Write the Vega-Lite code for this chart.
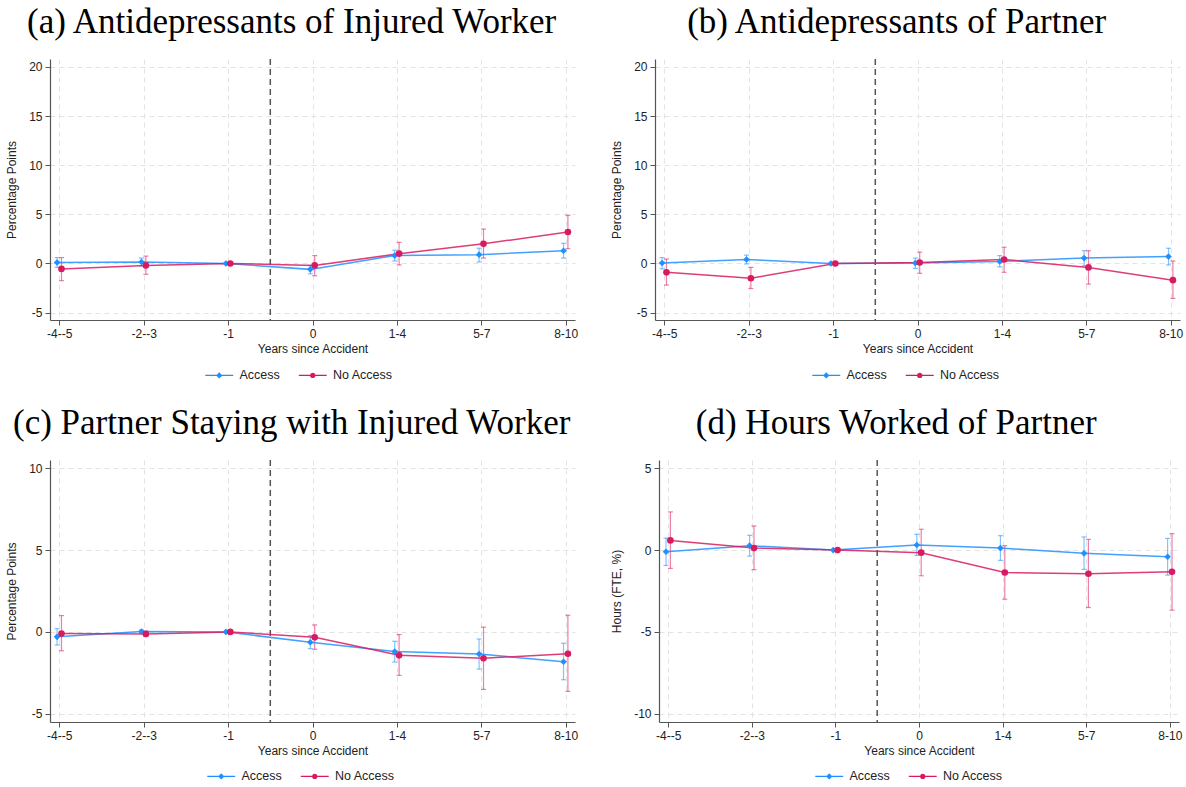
{
  "$schema": "https://vega.github.io/schema/vega-lite/v6.json",
  "background": "white",
  "padding": 5,
  "datasets": {
    "est": [
      {"panel": "a", "series": "Access", "period": "-4--5", "est": 0.1, "lo": -0.4, "hi": 0.6},
      {"panel": "a", "series": "Access", "period": "-2--3", "est": 0.15, "lo": -0.25, "hi": 0.55},
      {"panel": "a", "series": "Access", "period": "-1", "est": 0, "lo": null, "hi": null},
      {"panel": "a", "series": "Access", "period": "0", "est": -0.6, "lo": -1.05, "hi": -0.2},
      {"panel": "a", "series": "Access", "period": "1-4", "est": 0.8, "lo": 0.25, "hi": 1.35},
      {"panel": "a", "series": "Access", "period": "5-7", "est": 0.9, "lo": 0.15, "hi": 1.55},
      {"panel": "a", "series": "Access", "period": "8-10", "est": 1.3, "lo": 0.55, "hi": 2.05},
      {"panel": "a", "series": "No Access", "period": "-4--5", "est": -0.55, "lo": -1.75, "hi": 0.6},
      {"panel": "a", "series": "No Access", "period": "-2--3", "est": -0.2, "lo": -1.1, "hi": 0.75},
      {"panel": "a", "series": "No Access", "period": "-1", "est": 0, "lo": null, "hi": null},
      {"panel": "a", "series": "No Access", "period": "0", "est": -0.2, "lo": -1.25, "hi": 0.8},
      {"panel": "a", "series": "No Access", "period": "1-4", "est": 1.0, "lo": -0.15, "hi": 2.15},
      {"panel": "a", "series": "No Access", "period": "5-7", "est": 2.0, "lo": 0.55, "hi": 3.5},
      {"panel": "a", "series": "No Access", "period": "8-10", "est": 3.2, "lo": 1.5, "hi": 4.9},

      {"panel": "b", "series": "Access", "period": "-4--5", "est": 0.05, "lo": -0.55, "hi": 0.6},
      {"panel": "b", "series": "Access", "period": "-2--3", "est": 0.4, "lo": -0.05, "hi": 0.85},
      {"panel": "b", "series": "Access", "period": "-1", "est": 0, "lo": null, "hi": null},
      {"panel": "b", "series": "Access", "period": "0", "est": 0.05, "lo": -0.5, "hi": 0.55},
      {"panel": "b", "series": "Access", "period": "1-4", "est": 0.2, "lo": -0.35, "hi": 0.8},
      {"panel": "b", "series": "Access", "period": "5-7", "est": 0.55, "lo": -0.25, "hi": 1.3},
      {"panel": "b", "series": "Access", "period": "8-10", "est": 0.7, "lo": -0.15, "hi": 1.55},
      {"panel": "b", "series": "No Access", "period": "-4--5", "est": -0.9, "lo": -2.2, "hi": 0.45},
      {"panel": "b", "series": "No Access", "period": "-2--3", "est": -1.5, "lo": -2.55, "hi": -0.4},
      {"panel": "b", "series": "No Access", "period": "-1", "est": 0, "lo": null, "hi": null},
      {"panel": "b", "series": "No Access", "period": "0", "est": 0.1, "lo": -1.0, "hi": 1.15},
      {"panel": "b", "series": "No Access", "period": "1-4", "est": 0.4, "lo": -0.9, "hi": 1.65},
      {"panel": "b", "series": "No Access", "period": "5-7", "est": -0.4, "lo": -2.1, "hi": 1.3},
      {"panel": "b", "series": "No Access", "period": "8-10", "est": -1.7, "lo": -3.55, "hi": 0.25},

      {"panel": "c", "series": "Access", "period": "-4--5", "est": -0.3, "lo": -0.8, "hi": 0.2},
      {"panel": "c", "series": "Access", "period": "-2--3", "est": 0.02, "lo": -0.08, "hi": 0.12},
      {"panel": "c", "series": "Access", "period": "-1", "est": 0, "lo": null, "hi": null},
      {"panel": "c", "series": "Access", "period": "0", "est": -0.63, "lo": -1.02, "hi": -0.22},
      {"panel": "c", "series": "Access", "period": "1-4", "est": -1.2, "lo": -1.84, "hi": -0.57},
      {"panel": "c", "series": "Access", "period": "5-7", "est": -1.35, "lo": -2.27, "hi": -0.43},
      {"panel": "c", "series": "Access", "period": "8-10", "est": -1.82, "lo": -2.92, "hi": -0.69},
      {"panel": "c", "series": "No Access", "period": "-4--5", "est": -0.1, "lo": -1.15, "hi": 1.0},
      {"panel": "c", "series": "No Access", "period": "-2--3", "est": -0.12, "lo": -0.28, "hi": 0.04},
      {"panel": "c", "series": "No Access", "period": "-1", "est": 0, "lo": null, "hi": null},
      {"panel": "c", "series": "No Access", "period": "0", "est": -0.33, "lo": -1.06, "hi": 0.43},
      {"panel": "c", "series": "No Access", "period": "1-4", "est": -1.43, "lo": -2.65, "hi": -0.16},
      {"panel": "c", "series": "No Access", "period": "5-7", "est": -1.61, "lo": -3.51, "hi": 0.29},
      {"panel": "c", "series": "No Access", "period": "8-10", "est": -1.33, "lo": -3.63, "hi": 1.02},

      {"panel": "d", "series": "Access", "period": "-4--5", "est": -0.1, "lo": -0.94, "hi": 0.73},
      {"panel": "d", "series": "Access", "period": "-2--3", "est": 0.27, "lo": -0.37, "hi": 0.9},
      {"panel": "d", "series": "Access", "period": "-1", "est": 0, "lo": null, "hi": null},
      {"panel": "d", "series": "Access", "period": "0", "est": 0.31, "lo": -0.33, "hi": 0.96},
      {"panel": "d", "series": "Access", "period": "1-4", "est": 0.12, "lo": -0.63, "hi": 0.88},
      {"panel": "d", "series": "Access", "period": "5-7", "est": -0.2, "lo": -1.18, "hi": 0.8},
      {"panel": "d", "series": "Access", "period": "8-10", "est": -0.41, "lo": -1.53, "hi": 0.71},
      {"panel": "d", "series": "No Access", "period": "-4--5", "est": 0.59, "lo": -1.12, "hi": 2.33},
      {"panel": "d", "series": "No Access", "period": "-2--3", "est": 0.12, "lo": -1.2, "hi": 1.47},
      {"panel": "d", "series": "No Access", "period": "-1", "est": 0, "lo": null, "hi": null},
      {"panel": "d", "series": "No Access", "period": "0", "est": -0.16, "lo": -1.57, "hi": 1.27},
      {"panel": "d", "series": "No Access", "period": "1-4", "est": -1.37, "lo": -3.0, "hi": 0.27},
      {"panel": "d", "series": "No Access", "period": "5-7", "est": -1.45, "lo": -3.51, "hi": 0.65},
      {"panel": "d", "series": "No Access", "period": "8-10", "est": -1.33, "lo": -3.67, "hi": 1.0}
    ]
  },
  "vconcat": [
    {
      "hconcat": [
        {
          "title": "(a) Antidepressants of Injured Worker",
          "width": 525, "height": 261,
          "resolve": {"scale": {"x": "independent"}},
          "layer": [
            {"data": {"values": [{"v": 2.5}]},
             "mark": {"type": "rule", "color": "#555555", "strokeWidth": 1.5, "strokeDash": [6, 4]},
             "encoding": {"x": {"field": "v", "type": "quantitative", "scale": {"domain": [-0.11, 6.11], "nice": false, "zero": false}, "axis": null}}},
            {"data": {"name": "est"},
             "transform": [{"filter": "datum.panel === 'a'"}],
             "encoding": {
               "x": {"field": "period", "type": "nominal", "sort": ["-4--5", "-2--3", "-1", "0", "1-4", "5-7", "8-10"], "scale": {"type": "point", "padding": 0.11}, "axis": {"title": "Years since Accident", "grid": true, "labelAngle": 0}},
               "xOffset": {"field": "series", "type": "nominal", "scale": {"type": "point", "domain": ["Access", "No Access"], "range": [-2.2, 2.2], "padding": 0}},
               "color": {"field": "series", "type": "nominal", "scale": {"domain": ["Access", "No Access"], "range": ["#1E90FF", "#D81B60"]},
                 "legend": {"title": null, "orient": "none", "legendX": 163, "legendY": 310, "direction": "horizontal", "symbolType": "circle", "symbolSize": 30, "symbolStrokeWidth": 0, "symbolOpacity": 1, "labelOffset": 14, "columnPadding": 18.5, "labelFontSize": 12.5, "labelFont": "Liberation Sans", "labelColor": "#222222"}}
             },
             "layer": [
               {"transform": [{"filter": "false"}],
                "mark": {"type": "point", "filled": true},
                "encoding": {
                  "y": {"field": "est", "type": "quantitative", "title": "Percentage Points", "scale": {"domain": [-5.75, 20.8], "nice": false, "zero": false}, "axis": {"values": [-5, 0, 5, 10, 15, 20], "labelExpr": "'' + datum.value", "grid": true}},
                  "shape": {"field": "series", "type": "nominal", "scale": {"domain": ["Access", "No Access"], "range": ["M-5.1,-0.24H5.1V0.24H-5.1Z M0,-1.15L1.15,0L0,1.15L-1.15,0Z", "M-5.1,-0.24H5.1V0.24H-5.1Z M1,0A1,1,0,1,1,-1,0A1,1,0,1,1,1,0Z"]},
                    "legend": {"title": null, "orient": "none", "legendX": 163, "legendY": 310, "direction": "horizontal", "symbolSize": 30, "symbolStrokeWidth": 0, "symbolOpacity": 1, "labelOffset": 14, "columnPadding": 18.5, "labelFontSize": 12.5, "labelFont": "Liberation Sans", "labelColor": "#222222"}}
                }},
               {"mark": {"type": "rule", "strokeWidth": 1.2, "opacity": 0.55},
                "encoding": {"y": {"field": "lo", "type": "quantitative", "title": "Percentage Points", "scale": {"domain": [-5.75, 20.8], "nice": false, "zero": false}}, "y2": {"field": "hi"}}},
               {"mark": {"type": "tick", "orient": "horizontal", "size": 5, "thickness": 1.2, "opacity": 0.55},
                "encoding": {"y": {"field": "hi", "type": "quantitative", "title": "Percentage Points", "scale": {"domain": [-5.75, 20.8], "nice": false, "zero": false}}}},
               {"mark": {"type": "tick", "orient": "horizontal", "size": 5, "thickness": 1.2, "opacity": 0.55},
                "encoding": {"y": {"field": "lo", "type": "quantitative", "title": "Percentage Points", "scale": {"domain": [-5.75, 20.8], "nice": false, "zero": false}}}},
               {"mark": {"type": "line", "strokeWidth": 1.5, "opacity": 0.85},
                "encoding": {"y": {"field": "est", "type": "quantitative", "title": "Percentage Points", "scale": {"domain": [-5.75, 20.8], "nice": false, "zero": false}}}},
               {"mark": {"type": "point", "filled": true, "opacity": 1, "size": 44},
                "encoding": {"y": {"field": "est", "type": "quantitative", "title": "Percentage Points", "scale": {"domain": [-5.75, 20.8], "nice": false, "zero": false}},
                  "shape": {"condition": {"test": "datum.series === 'Access'", "value": "diamond"}, "value": "circle"}}}
             ]}
          ]
        },
        {
          "title": "(b) Antidepressants of Partner",
          "width": 525, "height": 261,
          "resolve": {"scale": {"x": "independent"}},
          "layer": [
            {"data": {"values": [{"v": 2.5}]},
             "mark": {"type": "rule", "color": "#555555", "strokeWidth": 1.5, "strokeDash": [6, 4]},
             "encoding": {"x": {"field": "v", "type": "quantitative", "scale": {"domain": [-0.11, 6.11], "nice": false, "zero": false}, "axis": null}}},
            {"data": {"name": "est"},
             "transform": [{"filter": "datum.panel === 'b'"}],
             "encoding": {
               "x": {"field": "period", "type": "nominal", "sort": ["-4--5", "-2--3", "-1", "0", "1-4", "5-7", "8-10"], "scale": {"type": "point", "padding": 0.11}, "axis": {"title": "Years since Accident", "grid": true, "labelAngle": 0}},
               "xOffset": {"field": "series", "type": "nominal", "scale": {"type": "point", "domain": ["Access", "No Access"], "range": [-2.2, 2.2], "padding": 0}},
               "color": {"field": "series", "type": "nominal", "scale": {"domain": ["Access", "No Access"], "range": ["#1E90FF", "#D81B60"]},
                 "legend": {"title": null, "orient": "none", "legendX": 165, "legendY": 310, "direction": "horizontal", "symbolType": "circle", "symbolSize": 30, "symbolStrokeWidth": 0, "symbolOpacity": 1, "labelOffset": 14, "columnPadding": 18.5, "labelFontSize": 12.5, "labelFont": "Liberation Sans", "labelColor": "#222222"}}
             },
             "layer": [
               {"transform": [{"filter": "false"}],
                "mark": {"type": "point", "filled": true},
                "encoding": {
                  "y": {"field": "est", "type": "quantitative", "title": "Percentage Points", "scale": {"domain": [-5.75, 20.8], "nice": false, "zero": false}, "axis": {"values": [-5, 0, 5, 10, 15, 20], "labelExpr": "'' + datum.value", "grid": true}},
                  "shape": {"field": "series", "type": "nominal", "scale": {"domain": ["Access", "No Access"], "range": ["M-5.1,-0.24H5.1V0.24H-5.1Z M0,-1.15L1.15,0L0,1.15L-1.15,0Z", "M-5.1,-0.24H5.1V0.24H-5.1Z M1,0A1,1,0,1,1,-1,0A1,1,0,1,1,1,0Z"]},
                    "legend": {"title": null, "orient": "none", "legendX": 165, "legendY": 310, "direction": "horizontal", "symbolSize": 30, "symbolStrokeWidth": 0, "symbolOpacity": 1, "labelOffset": 14, "columnPadding": 18.5, "labelFontSize": 12.5, "labelFont": "Liberation Sans", "labelColor": "#222222"}}
                }},
               {"mark": {"type": "rule", "strokeWidth": 1.2, "opacity": 0.55},
                "encoding": {"y": {"field": "lo", "type": "quantitative", "title": "Percentage Points", "scale": {"domain": [-5.75, 20.8], "nice": false, "zero": false}}, "y2": {"field": "hi"}}},
               {"mark": {"type": "tick", "orient": "horizontal", "size": 5, "thickness": 1.2, "opacity": 0.55},
                "encoding": {"y": {"field": "hi", "type": "quantitative", "title": "Percentage Points", "scale": {"domain": [-5.75, 20.8], "nice": false, "zero": false}}}},
               {"mark": {"type": "tick", "orient": "horizontal", "size": 5, "thickness": 1.2, "opacity": 0.55},
                "encoding": {"y": {"field": "lo", "type": "quantitative", "title": "Percentage Points", "scale": {"domain": [-5.75, 20.8], "nice": false, "zero": false}}}},
               {"mark": {"type": "line", "strokeWidth": 1.5, "opacity": 0.85},
                "encoding": {"y": {"field": "est", "type": "quantitative", "title": "Percentage Points", "scale": {"domain": [-5.75, 20.8], "nice": false, "zero": false}}}},
               {"mark": {"type": "point", "filled": true, "opacity": 1, "size": 44},
                "encoding": {"y": {"field": "est", "type": "quantitative", "title": "Percentage Points", "scale": {"domain": [-5.75, 20.8], "nice": false, "zero": false}},
                  "shape": {"condition": {"test": "datum.series === 'Access'", "value": "diamond"}, "value": "circle"}}}
             ]}
          ]
        }
      ],
      "spacing": 32,
      "resolve": {"scale": {"color": "independent", "shape": "independent"}}
    },
    {
      "hconcat": [
        {
          "title": "(c) Partner Staying with Injured Worker",
          "width": 525, "height": 262,
          "resolve": {"scale": {"x": "independent"}},
          "layer": [
            {"data": {"values": [{"v": 2.5}]},
             "mark": {"type": "rule", "color": "#555555", "strokeWidth": 1.5, "strokeDash": [6, 4]},
             "encoding": {"x": {"field": "v", "type": "quantitative", "scale": {"domain": [-0.11, 6.11], "nice": false, "zero": false}, "axis": null}}},
            {"data": {"name": "est"},
             "transform": [{"filter": "datum.panel === 'c'"}],
             "encoding": {
               "x": {"field": "period", "type": "nominal", "sort": ["-4--5", "-2--3", "-1", "0", "1-4", "5-7", "8-10"], "scale": {"type": "point", "padding": 0.11}, "axis": {"title": "Years since Accident", "grid": true, "labelAngle": 0}},
               "xOffset": {"field": "series", "type": "nominal", "scale": {"type": "point", "domain": ["Access", "No Access"], "range": [-2.2, 2.2], "padding": 0}},
               "color": {"field": "series", "type": "nominal", "scale": {"domain": ["Access", "No Access"], "range": ["#1E90FF", "#D81B60"]},
                 "legend": {"title": null, "orient": "none", "legendX": 165, "legendY": 310, "direction": "horizontal", "symbolType": "circle", "symbolSize": 30, "symbolStrokeWidth": 0, "symbolOpacity": 1, "labelOffset": 14, "columnPadding": 18.5, "labelFontSize": 12.5, "labelFont": "Liberation Sans", "labelColor": "#222222"}}
             },
             "layer": [
               {"transform": [{"filter": "false"}],
                "mark": {"type": "point", "filled": true},
                "encoding": {
                  "y": {"field": "est", "type": "quantitative", "title": "Percentage Points", "scale": {"domain": [-5.5, 10.5], "nice": false, "zero": false}, "axis": {"values": [-5, 0, 5, 10], "labelExpr": "'' + datum.value", "grid": true}},
                  "shape": {"field": "series", "type": "nominal", "scale": {"domain": ["Access", "No Access"], "range": ["M-5.1,-0.24H5.1V0.24H-5.1Z M0,-1.15L1.15,0L0,1.15L-1.15,0Z", "M-5.1,-0.24H5.1V0.24H-5.1Z M1,0A1,1,0,1,1,-1,0A1,1,0,1,1,1,0Z"]},
                    "legend": {"title": null, "orient": "none", "legendX": 165, "legendY": 310, "direction": "horizontal", "symbolSize": 30, "symbolStrokeWidth": 0, "symbolOpacity": 1, "labelOffset": 14, "columnPadding": 18.5, "labelFontSize": 12.5, "labelFont": "Liberation Sans", "labelColor": "#222222"}}
                }},
               {"mark": {"type": "rule", "strokeWidth": 1.2, "opacity": 0.55},
                "encoding": {"y": {"field": "lo", "type": "quantitative", "title": "Percentage Points", "scale": {"domain": [-5.5, 10.5], "nice": false, "zero": false}}, "y2": {"field": "hi"}}},
               {"mark": {"type": "tick", "orient": "horizontal", "size": 5, "thickness": 1.2, "opacity": 0.55},
                "encoding": {"y": {"field": "hi", "type": "quantitative", "title": "Percentage Points", "scale": {"domain": [-5.5, 10.5], "nice": false, "zero": false}}}},
               {"mark": {"type": "tick", "orient": "horizontal", "size": 5, "thickness": 1.2, "opacity": 0.55},
                "encoding": {"y": {"field": "lo", "type": "quantitative", "title": "Percentage Points", "scale": {"domain": [-5.5, 10.5], "nice": false, "zero": false}}}},
               {"mark": {"type": "line", "strokeWidth": 1.5, "opacity": 0.85},
                "encoding": {"y": {"field": "est", "type": "quantitative", "title": "Percentage Points", "scale": {"domain": [-5.5, 10.5], "nice": false, "zero": false}}}},
               {"mark": {"type": "point", "filled": true, "opacity": 1, "size": 44},
                "encoding": {"y": {"field": "est", "type": "quantitative", "title": "Percentage Points", "scale": {"domain": [-5.5, 10.5], "nice": false, "zero": false}},
                  "shape": {"condition": {"test": "datum.series === 'Access'", "value": "diamond"}, "value": "circle"}}}
             ]}
          ]
        },
        {
          "title": "(d) Hours Worked of Partner",
          "width": 520, "height": 262,
          "resolve": {"scale": {"x": "independent"}},
          "layer": [
            {"data": {"values": [{"v": 2.5}]},
             "mark": {"type": "rule", "color": "#555555", "strokeWidth": 1.5, "strokeDash": [6, 4]},
             "encoding": {"x": {"field": "v", "type": "quantitative", "scale": {"domain": [-0.11, 6.11], "nice": false, "zero": false}, "axis": null}}},
            {"data": {"name": "est"},
             "transform": [{"filter": "datum.panel === 'd'"}],
             "encoding": {
               "x": {"field": "period", "type": "nominal", "sort": ["-4--5", "-2--3", "-1", "0", "1-4", "5-7", "8-10"], "scale": {"type": "point", "padding": 0.11}, "axis": {"title": "Years since Accident", "grid": true, "labelAngle": 0}},
               "xOffset": {"field": "series", "type": "nominal", "scale": {"type": "point", "domain": ["Access", "No Access"], "range": [-2.2, 2.2], "padding": 0}},
               "color": {"field": "series", "type": "nominal", "scale": {"domain": ["Access", "No Access"], "range": ["#1E90FF", "#D81B60"]},
                 "legend": {"title": null, "orient": "none", "legendX": 164, "legendY": 310, "direction": "horizontal", "symbolType": "circle", "symbolSize": 30, "symbolStrokeWidth": 0, "symbolOpacity": 1, "labelOffset": 14, "columnPadding": 18.5, "labelFontSize": 12.5, "labelFont": "Liberation Sans", "labelColor": "#222222"}}
             },
             "layer": [
               {"transform": [{"filter": "false"}],
                "mark": {"type": "point", "filled": true},
                "encoding": {
                  "y": {"field": "est", "type": "quantitative", "title": "Hours (FTE, %)", "scale": {"domain": [-10.5, 5.5], "nice": false, "zero": false}, "axis": {"values": [-10, -5, 0, 5], "labelExpr": "'' + datum.value", "grid": true}},
                  "shape": {"field": "series", "type": "nominal", "scale": {"domain": ["Access", "No Access"], "range": ["M-5.1,-0.24H5.1V0.24H-5.1Z M0,-1.15L1.15,0L0,1.15L-1.15,0Z", "M-5.1,-0.24H5.1V0.24H-5.1Z M1,0A1,1,0,1,1,-1,0A1,1,0,1,1,1,0Z"]},
                    "legend": {"title": null, "orient": "none", "legendX": 164, "legendY": 310, "direction": "horizontal", "symbolSize": 30, "symbolStrokeWidth": 0, "symbolOpacity": 1, "labelOffset": 14, "columnPadding": 18.5, "labelFontSize": 12.5, "labelFont": "Liberation Sans", "labelColor": "#222222"}}
                }},
               {"mark": {"type": "rule", "strokeWidth": 1.2, "opacity": 0.55},
                "encoding": {"y": {"field": "lo", "type": "quantitative", "title": "Hours (FTE, %)", "scale": {"domain": [-10.5, 5.5], "nice": false, "zero": false}}, "y2": {"field": "hi"}}},
               {"mark": {"type": "tick", "orient": "horizontal", "size": 5, "thickness": 1.2, "opacity": 0.55},
                "encoding": {"y": {"field": "hi", "type": "quantitative", "title": "Hours (FTE, %)", "scale": {"domain": [-10.5, 5.5], "nice": false, "zero": false}}}},
               {"mark": {"type": "tick", "orient": "horizontal", "size": 5, "thickness": 1.2, "opacity": 0.55},
                "encoding": {"y": {"field": "lo", "type": "quantitative", "title": "Hours (FTE, %)", "scale": {"domain": [-10.5, 5.5], "nice": false, "zero": false}}}},
               {"mark": {"type": "line", "strokeWidth": 1.5, "opacity": 0.85},
                "encoding": {"y": {"field": "est", "type": "quantitative", "title": "Hours (FTE, %)", "scale": {"domain": [-10.5, 5.5], "nice": false, "zero": false}}}},
               {"mark": {"type": "point", "filled": true, "opacity": 1, "size": 44},
                "encoding": {"y": {"field": "est", "type": "quantitative", "title": "Hours (FTE, %)", "scale": {"domain": [-10.5, 5.5], "nice": false, "zero": false}},
                  "shape": {"condition": {"test": "datum.series === 'Access'", "value": "diamond"}, "value": "circle"}}}
             ]}
          ]
        }
      ],
      "spacing": 32,
      "resolve": {"scale": {"color": "independent", "shape": "independent"}}
    }
  ],
  "spacing": 24,
  "resolve": {"scale": {"color": "independent", "shape": "independent"}},
  "config": {
    "view": {"stroke": null},
    "font": "Liberation Sans",
    "axis": {
      "labelFont": "Liberation Sans", "labelFontSize": 12, "labelColor": "#222222",
      "titleFont": "Liberation Sans", "titleFontSize": 12, "titleFontWeight": "normal", "titleColor": "#222222",
      "domainColor": "#555555", "domainWidth": 1.2, "tickColor": "#555555", "tickSize": 5, "tickWidth": 1,
      "grid": true, "gridColor": "#e3e3e3", "gridDash": [5, 4], "gridWidth": 1, "labelPadding": 3
    },
    "axisX": {"labelAngle": 0, "titlePadding": 4},
    "axisY": {"titlePadding": 10},
    "title": {"font": "Liberation Serif", "fontSize": 35, "fontWeight": "normal", "color": "#000000", "offset": 18, "anchor": "middle", "frame": "bounds"}
  }
}
